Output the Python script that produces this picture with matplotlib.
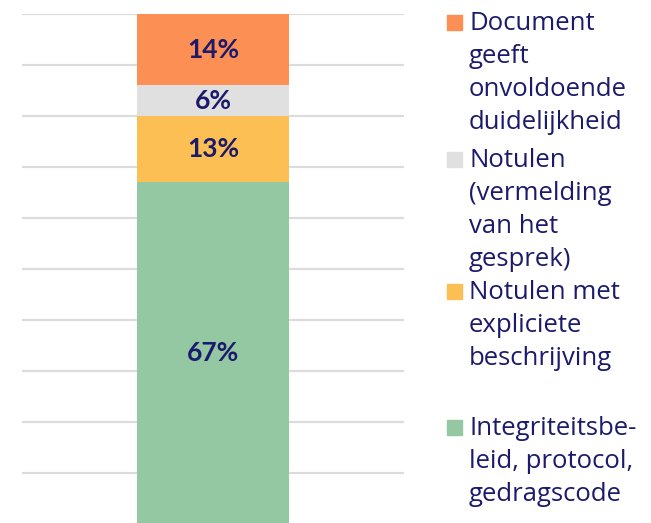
import matplotlib
matplotlib.use("Agg")
import matplotlib.pyplot as plt
from matplotlib.patches import Rectangle

# data, bottom to top of the stack
categories = [
    "Integriteitsbe-\nleid, protocol,\ngedragscode",
    "Notulen met\nexpliciete\nbeschrijving",
    "Notulen\n(vermelding\nvan het\ngesprek)",
    "Document\ngeeft\nonvoldoende\nduidelijkheid",
]
values = [67, 13, 6, 14]
colors = ["#94c8a3", "#fbbf53", "#e0e0e0", "#fc8f53"]
grid_ticks = [10, 20, 30, 40, 50, 60, 70, 80, 90, 100]

NAVY = "#1b1a6b"
W, H = 651, 523

fig = plt.figure(figsize=(W / 100, H / 100), dpi=100)
# axes box in pixels: x 22..404, y 14 (100%) .. 524 (0%)
ax = fig.add_axes([22 / W, (H - 524) / H, (404 - 22) / W, (524 - 14) / H])
ax.set_xlim(0, 1)
ax.set_ylim(0, 100)
for s in ax.spines.values():
    s.set_visible(False)
ax.set_xticks([])
ax.set_yticks(grid_ticks)
ax.tick_params(left=False, labelleft=False)
ax.yaxis.grid(True, color="#dcdcdc", linewidth=1.6)
ax.set_axisbelow(True)

bottom = 0
for v, c in zip(values, colors):
    ax.bar(0.5, v, width=0.4, bottom=bottom, color=c, zorder=2, linewidth=0)
    ax.text(0.5, bottom + v / 2, f"{v}%", ha="center", va="center",
            color=NAVY, fontsize=19, fontweight="bold", family=["Lato", "DejaVu Sans"],
            zorder=3, clip_on=False)
    bottom += v

# legend, top item first
first_baselines = [30, 167, 299, 435]
line_step = 33
for lab, c, yb in zip(categories[::-1], colors[::-1], first_baselines):
    fig.patches.append(Rectangle((447 / W, 1 - yb / H), 15 / W, 15 / H,
                                 transform=fig.transFigure, color=c))
    for i, line in enumerate(lab.split("\n")):
        fig.text(469 / W, 1 - (yb + i * line_step) / H, line, ha="left", va="baseline",
                 color=NAVY, fontsize=18.5, family=["Open Sans", "DejaVu Sans"])

fig.savefig("out.png", dpi=100)
